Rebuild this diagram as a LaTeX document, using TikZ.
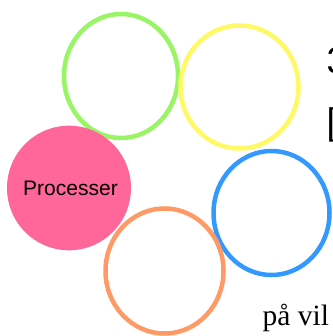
\documentclass[tikz,border=0pt]{standalone}
\usepackage{fontspec}
\setmainfont{Liberation Sans}
\newfontfamily\serifface{Liberation Serif}
\definecolor{cgreen}{HTML}{99F566}
\definecolor{cyellow}{HTML}{FFF966}
\definecolor{cblue}{HTML}{3399FF}
\definecolor{corange}{HTML}{FF9966}
\definecolor{cpink}{HTML}{FF6699}
\begin{document}
\begin{tikzpicture}[x=1pt,y=-1pt,
  ring/.style={line width=4.5pt},
  bigtext/.style={anchor=base west,inner sep=0pt,font=\fontsize{37}{44}\selectfont},
  bodytext/.style={anchor=base west,inner sep=0pt,font=\serifface\fontsize{29.5}{34}\selectfont}]
\useasboundingbox (0,0) rectangle (332,336);
\clip (0,0) rectangle (332,336);
\draw[ring,draw=cgreen] (121,76) ellipse [x radius=57, y radius=62];
\draw[ring,draw=cyellow] (239.5,87) ellipse [x radius=59, y radius=61.5];
\draw[ring,draw=cblue] (271.5,213) ellipse [x radius=58, y radius=62];
\draw[ring,draw=corange] (164.5,271) ellipse [x radius=59, y radius=62.5];
\fill[cpink] (69,188) ellipse [x radius=62, y radius=62.3];
\node[font=\fontsize{21}{25}\selectfont,inner sep=0pt] (proc) at (70.5,188) {Processer};
\node[bigtext] (t3) at (326.5,74) {3};
\node[bigtext] (tb) at (326.5,135) {[};
\node[bodytext] (pv) at (262.5,325) {på vil};
\end{tikzpicture}
\end{document}
